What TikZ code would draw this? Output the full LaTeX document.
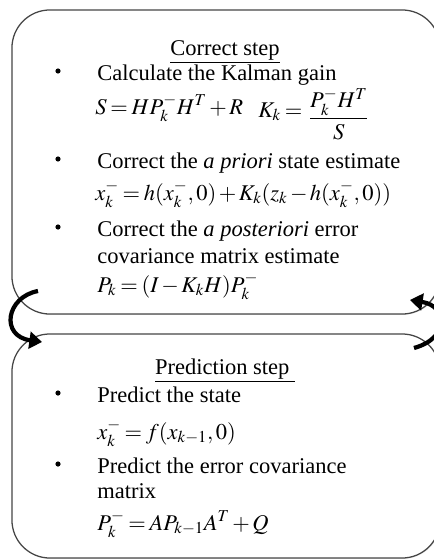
\documentclass[tikz,border=0pt]{standalone}
\usepackage{amsmath}
\usepackage{mathptmx}
\usepackage[no-math]{fontspec}
\setmainfont{Liberation Serif}
\usepackage{tikz}
\usetikzlibrary{arrows.meta,positioning,shadows}
\definecolor{cLine}{RGB}{70,70,70}
\tikzset{
  stepbox/.style={rectangle,rounded corners=0.95cm,draw=cLine,line width=0.9pt,
                  fill=white,drop shadow={opacity=0.18,shadow xshift=0.6pt,shadow yshift=-0.6pt}},
  bodytxt/.style={anchor=base west,inner sep=0pt,font=\fontsize{16}{19}\selectfont},
  headtxt/.style={anchor=base,inner sep=0pt,font=\fontsize{16}{19}\selectfont},
  dotmark/.style={circle,fill=black,inner sep=0pt,minimum size=0.13cm},
  cycarr/.style={-{Triangle[length=9pt,width=12pt]},line width=3pt,color=black}
}
\newcommand{\tightmath}{\thickmuskip=3mu plus 2mu\medmuskip=2mu plus 1mu}
\begin{document}
\begin{tikzpicture}[x=0.025cm,y=-0.025cm]
  \useasboundingbox (0,0) rectangle (434,559);
  % the two boxes
  \node[stepbox,minimum width=10.7cm,minimum height=7.6cm] (correct) at (226,162) {};
  \node[stepbox,minimum width=10.7cm,minimum height=5.6cm] (predict) at (226,446) {};

  % correct step
  \node[headtxt] (chead) at (225,55) {\underline{Correct step}};
  \node[dotmark] (cb1) at (58,71) {};
  \node[bodytxt] (ct1) at (97,80) {Calculate the Kalman gain};
  \node[bodytxt] (ce1) at (95,114) {\tightmath$S = HP_k^-H^T + R$};
  \node[bodytxt] (ck) at (258,117) {\tightmath$K_k =$};
  \node[bodytxt] (cfrac) at ([xshift=4pt,yshift=-5pt]ck.base east) {$\dfrac{P_k^-H^T}{S}$};
  \node[dotmark] (cb2) at (58,159) {};
  \node[bodytxt] (ct2) at (97,168) {Correct the \textit{a priori} state estimate};
  \node[bodytxt] (ce2) at (95,200)
      {\tightmath$x_k^- = h(x_k^-,0) + K_k(z_k - h(x_k^-,0))$};
  \node[dotmark] (cb3) at (58,227) {};
  \node[bodytxt] (ct3) at (97,236) {Correct the \textit{a posteriori} error};
  \node[bodytxt] (ct4) at (97,263) {covariance matrix estimate};
  \node[bodytxt] (ce3) at (97,292) {\tightmath$P_k = (I - K_kH)P_k^-$};

  % prediction step
  \node[headtxt] (phead) at (225,374) {\underline{Prediction step\ }};
  \node[dotmark] (pb1) at (58,393) {};
  \node[bodytxt] (pt1) at (97,402) {Predict the state};
  \node[bodytxt] (pe1) at (97,439) {\tightmath$x_k^- = f(x_{k-1},0)$};
  \node[dotmark] (pb2) at (58,464) {};
  \node[bodytxt] (pt2) at (97,473) {Predict the error covariance};
  \node[bodytxt] (pt3) at (97,498) {matrix};
  \node[bodytxt] (pe2) at (97,530) {\tightmath$P_k^- = AP_{k-1}A^T + Q$};

  % cycle arrows
  \coordinate (ltail) at (38,291);
  \coordinate (lhead) at (42,342);
  \coordinate (rtail) at (414,348);
  \coordinate (rhead) at (410,300);
  \draw[cycarr] (ltail) .. controls (6,297) and (0,336) .. (lhead);
  \draw[cycarr] (rtail) .. controls (450,338) and (448,306) .. (rhead);
\end{tikzpicture}
\end{document}
